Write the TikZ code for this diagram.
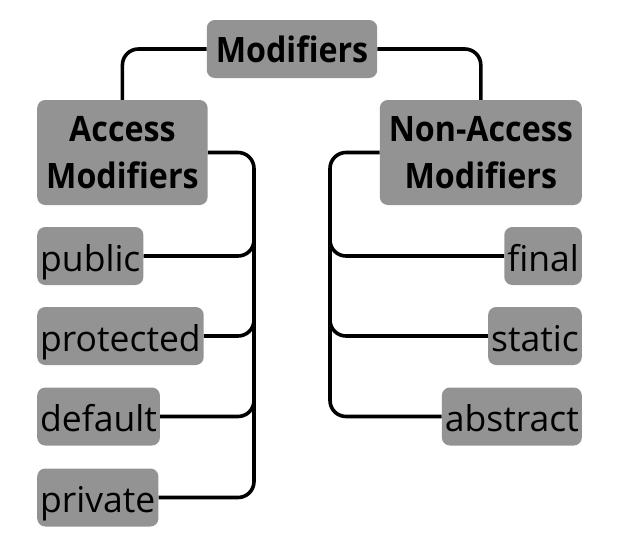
\documentclass[tikz,border=0pt]{standalone}
\usepackage{fontspec}
\setmainfont{Open Sans}
\newfontfamily\headfont{Open Sans}[FakeStretch=0.92]
\usetikzlibrary{calc}
\definecolor{boxgrey}{HTML}{939393}
\tikzset{
  modBox/.style={fill=boxgrey, rounded corners=8pt, inner xsep=3pt, inner ysep=0pt,
    text height=44pt, text depth=14pt, font=\fontsize{35.5}{35.5}\selectfont},
  modHead/.style={fill=boxgrey, rounded corners=8pt, inner xsep=9pt, inner ysep=0pt,
    align=center, font=\headfont\bfseries\fontsize{35}{47}\selectfont},
  modLink/.style={draw=black, line width=3.6pt, rounded corners=16pt}
}

\begin{document}
\begin{tikzpicture}[x=1pt, y=-1pt]
  \useasboundingbox (0,0) rectangle (620,549);

  % heads
  \node[modHead, minimum height=58pt] (mod) at (292,49) {Modifiers};
  \node[modHead, anchor=west, minimum height=105pt] (acc) at (37,152.5) {Access\\Modifiers};
  \node[modHead, anchor=east, minimum height=105pt] (nacc) at (582,152.5) {Non-Access\\Modifiers};

  % access modifiers
  \node[modBox, anchor=west] (public) at (37,256) {public};
  \node[modBox, anchor=west] (protected) at (37,336) {protected};
  \node[modBox, anchor=west] (default) at (37,416.5) {default};
  \node[modBox, anchor=west] (private) at (37,497.5) {private};

  % non-access modifiers
  \node[modBox, anchor=east] (final) at (582,256) {final};
  \node[modBox, anchor=east] (static) at (582,336) {static};
  \node[modBox, anchor=east] (abstract) at (582,416.5) {abstract};

  \coordinate (lbus) at (254,153);
  \coordinate (rbus) at (330,152);

  % links
  \draw[modLink] (mod.west) -| (acc.north);
  \draw[modLink] (mod.east) -| (nacc.north);

  \draw[modLink] (acc.east) -| (lbus |- private.east) -- (private.east);
  \draw[modLink] (public.east) -| ($(lbus |- public.east)+(0,-24)$);
  \draw[modLink] (protected.east) -| ($(lbus |- protected.east)+(0,-24)$);
  \draw[modLink] (default.east) -| ($(lbus |- default.east)+(0,-24)$);

  \draw[modLink] (nacc.west) -| (rbus |- abstract.west) -- (abstract.west);
  \draw[modLink] (final.west) -| ($(rbus |- final.west)+(0,-24)$);
  \draw[modLink] (static.west) -| ($(rbus |- static.west)+(0,-24)$);
\end{tikzpicture}
\end{document}
